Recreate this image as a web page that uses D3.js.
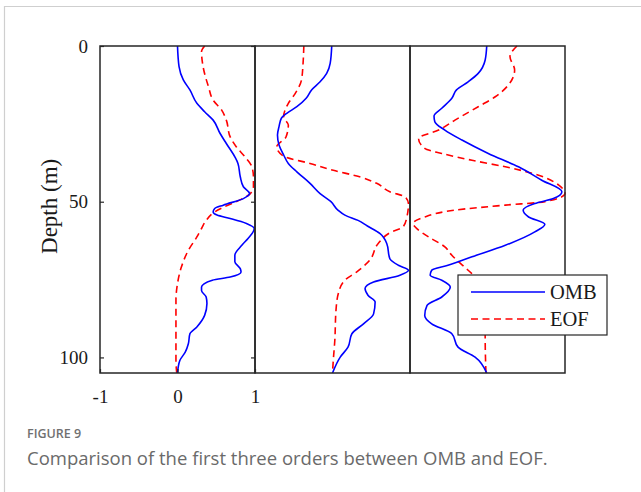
<!DOCTYPE html>
<html>
<head>
<meta charset="utf-8">
<script src="https://cdn.jsdelivr.net/npm/d3@7"></script>
<style>
  html, body { margin: 0; padding: 0; background: #fff; }
  svg { display: block; }
</style>
</head>
<body>
<svg id="chart" width="641" height="492"></svg>
<script>
// Vertical profiles of the first three orders: [depth (m), normalized value]
const omb1 = [[0,0.0],[6.6,0.02],[10.9,0.075],[14.1,0.16],[18.4,0.25],[21.1,0.35],[23.8,0.46],[28.1,0.55],[31.3,0.63],[35.6,0.74],[37.7,0.78],[42,0.81],[45.2,0.85],[47.4,0.93],[49,0.85],[51.1,0.59],[52.2,0.48],[53.3,0.46],[54.3,0.51],[55.4,0.68],[57,0.89],[58.6,0.99],[59.5,0.98],[61.8,0.91],[64,0.83],[67.2,0.74],[69.3,0.74],[71.5,0.81],[72.6,0.82],[74.2,0.68],[75.2,0.45],[77.4,0.31],[78.5,0.31],[80.6,0.37],[82.7,0.38],[86.5,0.35],[90.2,0.25],[92.4,0.16],[95.6,0.14],[98.3,0.10],[101,0.03],[105,0.0]];
const eof1 = [[0,0.35],[1.8,0.31],[6.6,0.33],[13.1,0.40],[17.4,0.46],[20.6,0.57],[23.8,0.63],[29.2,0.68],[32.4,0.76],[35.6,0.87],[38.8,0.96],[42,0.98],[45.2,0.98],[47.4,0.94],[49.5,0.80],[51.7,0.60],[53.3,0.48],[56,0.37],[58.6,0.31],[61.3,0.25],[65.6,0.14],[71,0.05],[76.3,0.0],[81.7,-0.02],[92.4,-0.02],[101,-0.02],[105,-0.01]];
const omb2 = [[0,-0.01],[5.6,-0.03],[8.8,-0.075],[11.5,-0.16],[14.1,-0.27],[16.8,-0.34],[19.5,-0.46],[21.6,-0.59],[23.2,-0.66],[25.9,-0.69],[28.6,-0.71],[31.8,-0.69],[35,-0.63],[37.7,-0.57],[40.4,-0.46],[44.1,-0.29],[47.4,-0.16],[50,-0.02],[52.7,0.07],[54.3,0.16],[56,0.33],[57.8,0.45],[60.2,0.61],[63.4,0.70],[68.3,0.74],[70.4,0.85],[72,0.98],[73.6,0.87],[75.8,0.53],[77.9,0.42],[80.1,0.46],[82.2,0.55],[86,0.53],[89.2,0.40],[92.4,0.25],[96.7,0.20],[99.9,0.10],[105,0.0]];
const eof2 = [[0,-0.37],[5.6,-0.38],[10.9,-0.40],[15.2,-0.48],[18.4,-0.57],[22.7,-0.63],[25.4,-0.57],[29.2,-0.60],[32.4,-0.72],[35.4,-0.63],[37.7,-0.29],[39.9,0.01],[42,0.35],[44.1,0.57],[46.8,0.74],[48.5,0.94],[50.6,0.98],[54.9,0.96],[58.1,0.91],[59.7,0.76],[63.4,0.59],[68.8,0.48],[72.6,0.31],[75.2,0.16],[79.5,0.075],[84.9,0.045],[94.5,0.03],[101,0.01],[105,0.0]];
const omb3 = [[0,-0.01],[4.5,-0.03],[8.8,-0.12],[11.5,-0.25],[14.1,-0.40],[16.8,-0.46],[20,-0.59],[22.5,-0.69],[24.3,-0.68],[27,-0.55],[30.2,-0.33],[34.5,0.01],[38.8,0.40],[43.1,0.70],[46.8,0.96],[49,0.85],[50.6,0.61],[52.7,0.46],[54.9,0.53],[57.2,0.74],[59.7,0.61],[64,0.23],[67.7,-0.20],[70.4,-0.51],[72,-0.72],[73.6,-0.74],[75.2,-0.59],[77.4,-0.48],[80.6,-0.59],[83.3,-0.78],[86.5,-0.81],[89.2,-0.72],[92.4,-0.46],[96.7,-0.38],[99.9,-0.16],[105,-0.01]];
const eof3 = [[0,0.38],[3.4,0.29],[7.7,0.35],[12.5,0.27],[16.3,0.10],[19.5,-0.12],[23.8,-0.42],[27,-0.63],[29.7,-0.89],[32.9,-0.81],[34.5,-0.59],[36.7,-0.20],[38.8,0.23],[41.5,0.66],[44.7,0.92],[47.4,1.0],[50,0.74],[51.1,0.23],[52.7,-0.42],[54.9,-0.81],[57,-0.96],[58.9,-0.90],[61.3,-0.76],[64.5,-0.55],[67.2,-0.46],[72,-0.25],[75,-0.12],[78,-0.05],[82,-0.03],[93.4,-0.03],[105,-0.02]];

const ombSeries = [omb1, omb2, omb3];
const eofSeries = [eof1, eof2, eof3];
const seriesNames = ["OMB", "EOF"];
const depthTicks = [0, 50, 100];
const valueTicks = [-1, 0, 1];
const captionTitle = "FIGURE 9";
const captionText = "Comparison of the first three orders between OMB and EOF.";

const svg = d3.select("#chart");
const serif = "'Liberation Serif', 'Times New Roman', serif";
const axisColor = "#262626";
const dashPattern = "7,4.5";

// page frame (top and left edges)
svg.append("path")
  .attr("d", "M4.5,492V6.5H641")
  .attr("fill", "none").attr("stroke", "#cfcfcf").attr("stroke-width", 1.2);

const plotTop = 46, plotBottom = 373;
const panelLeft = 100, panelW = 155;

const y = d3.scaleLinear().domain([0, 105]).range([plotTop, plotBottom]);
const xs = [0, 1, 2].map(i =>
  d3.scaleLinear().domain([-1, 1]).range([panelLeft + i * panelW, panelLeft + (i + 1) * panelW]));

const profileLine = x => d3.line()
  .x(d => x(d[1]))
  .y(d => y(d[0]))
  .curve(d3.curveMonotoneY);

xs.forEach((x, i) => {
  const g = svg.append("g");
  g.append("path").datum(eofSeries[i])
    .attr("d", profileLine(x))
    .attr("fill", "none").attr("stroke", "#ff0000")
    .attr("stroke-width", 1.6).attr("stroke-dasharray", dashPattern);

  g.append("path").datum(ombSeries[i])
    .attr("d", profileLine(x))
    .attr("fill", "none").attr("stroke", "#0000ff")
    .attr("stroke-width", 1.6);
});

// frames of the three panels
xs.forEach(x => {
  svg.append("rect")
    .attr("x", x.range()[0]).attr("y", plotTop)
    .attr("width", panelW).attr("height", plotBottom - plotTop)
    .attr("fill", "none").attr("stroke", axisColor).attr("stroke-width", 1.5);
});

// axes of the first panel: ticks inside, labels outside
const x0 = xs[0];
const plainNumber = d => String(d);
const yLeft = d3.axisLeft(y).tickValues(depthTicks).tickSize(-4).tickPadding(12).tickFormat(plainNumber);
const yRight = d3.axisRight(y).tickValues(depthTicks).tickSize(-4).tickFormat("");
const xBottom = d3.axisBottom(x0).tickValues(valueTicks).tickSize(-4).tickPadding(17).tickFormat(plainNumber);

function styleAxis(g) {
  g.attr("font-family", serif).attr("font-size", 19);
  g.select(".domain").remove();
  g.selectAll("line").attr("stroke", axisColor).attr("stroke-width", 1.2);
  g.selectAll("text")
    .attr("fill", "#1a1a1a")
    .attr("font-family", serif)
    .style("font-family", serif)
    .style("font-size", "19px");
}

svg.append("g").attr("transform", `translate(${x0.range()[0]},0)`).call(yLeft).call(styleAxis);
svg.append("g").attr("transform", `translate(${x0.range()[1]},0)`).call(yRight).call(styleAxis);
svg.append("g").attr("transform", `translate(0,${plotBottom})`).call(xBottom).call(styleAxis);

svg.append("text")
  .attr("transform", `translate(57,${y(51.5)}) rotate(-90)`)
  .attr("text-anchor", "middle")
  .style("font-family", serif).style("font-size", "23px").attr("fill", "#1a1a1a")
  .text("Depth (m)");

// legend
const leg = svg.append("g").attr("transform", "translate(458,275)");
leg.append("rect").attr("width", 149).attr("height", 60)
  .attr("fill", "#fff").attr("stroke", axisColor).attr("stroke-width", 1.2);
const legendStyles = [
  { color: "#0000ff", dash: null },
  { color: "#ff0000", dash: dashPattern }
];
seriesNames.forEach((name, i) => {
  const yy = 17 + i * 27;
  leg.append("line")
    .attr("x1", 13).attr("x2", 87).attr("y1", yy).attr("y2", yy)
    .attr("stroke", legendStyles[i].color).attr("stroke-width", 1.6)
    .attr("stroke-dasharray", legendStyles[i].dash);
  leg.append("text")
    .attr("x", 92).attr("y", yy + 7)
    .style("font-family", serif).style("font-size", "20.5px").attr("fill", "#1a1a1a")
    .text(name);
});

// caption
svg.append("text")
  .attr("x", 27).attr("y", 438)
  .style("font-family", "'Open Sans', 'Noto Sans', sans-serif")
  .style("font-size", "12.5px").style("font-weight", 600)
  .attr("fill", "#707070")
  .text(captionTitle);
svg.append("text")
  .attr("x", 27).attr("y", 465)
  .style("font-family", "'Open Sans', 'Noto Sans', sans-serif")
  .style("font-size", "18.5px")
  .attr("fill", "#6a6a6a")
  .text(captionText);
</script>
</body>
</html>
